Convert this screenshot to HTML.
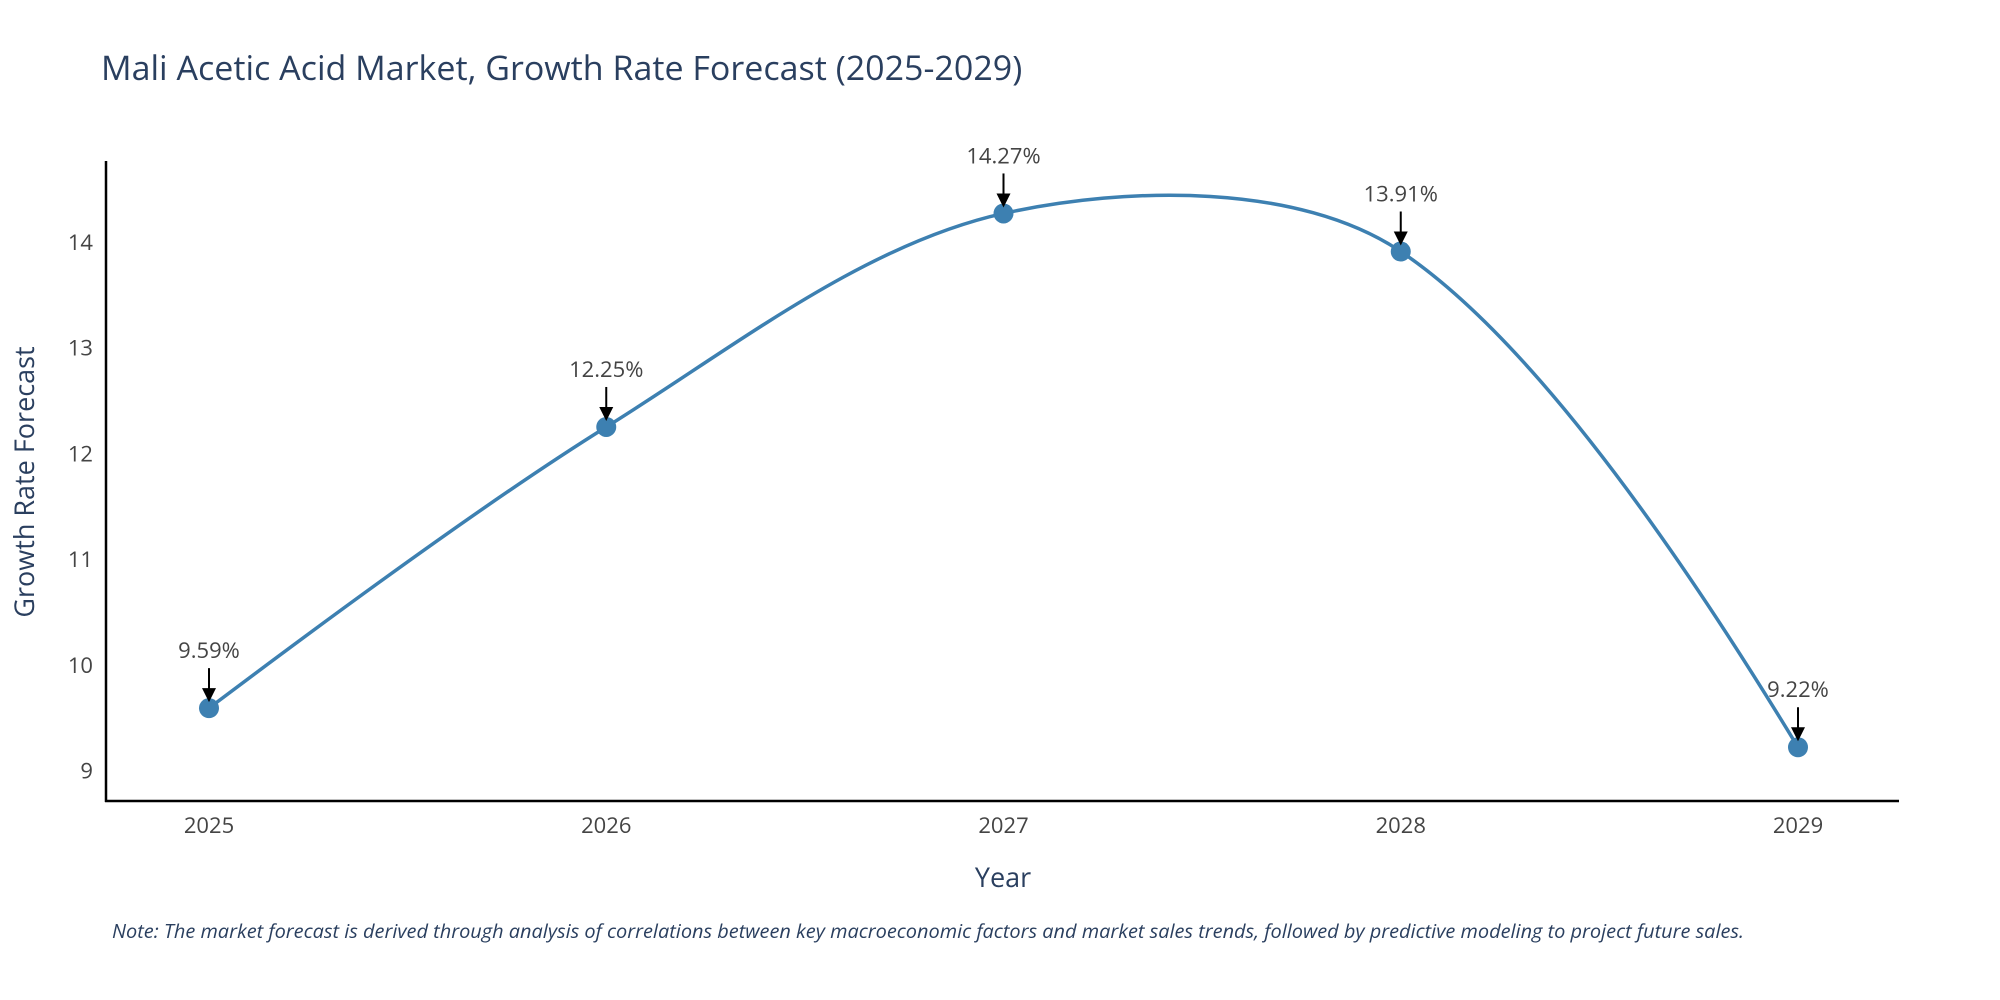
<!DOCTYPE html>
<html><head><meta charset="utf-8"><style>
body{margin:0;background:#fff;}
svg{display:block;font-family:"Open Sans","Liberation Sans",sans-serif;}
</style></head><body>
<svg id="chart" width="2000" height="1000" viewBox="0 0 2000 1000" xmlns="http://www.w3.org/2000/svg">
<rect width="2000" height="1000" fill="#fff"/>
<text x="101" y="80" font-size="34" fill="#2a3f5f">Mali Acetic Acid Market, Growth Rate Forecast (2025-2029)</text>
<g id="yticks"></g><g id="xticks"></g>
<line x1="106" y1="161" x2="106" y2="802" stroke="#000" stroke-width="2.5"/>
<line x1="105" y1="801" x2="1899" y2="801" stroke="#000" stroke-width="2.5"/>
<path id="line" fill="none" stroke="#3d80b1" stroke-width="3.5"/>
<g id="marks"></g>
<text x="1003" y="887" font-size="27" fill="#2a3f5f" text-anchor="middle">Year</text>
<text transform="translate(34,482) rotate(-90)" font-size="27" fill="#2a3f5f" text-anchor="middle">Growth Rate Forecast</text>
<text x="112" y="938" font-size="19" font-style="italic" fill="#2a3f5f" textLength="1632" lengthAdjust="spacingAndGlyphs">Note: The market forecast is derived through analysis of correlations between key macroeconomic factors and market sales trends, followed by predictive modeling to project future sales.</text>
</svg>
<script>
const years = [2025, 2026, 2027, 2028, 2029];
const values = [9.59, 12.25, 14.27, 13.91, 9.22];
const labels = ["9.59%", "12.25%", "14.27%", "13.91%", "9.22%"];
const yTicks = [9, 10, 11, 12, 13, 14];

const NS = "http://www.w3.org/2000/svg";
const xScale = v => 209 + (v - 2025) * (1798 - 209) / 4;
const yScale = v => 770.5 - (v - 9) * 105.7;
function mk(tag, attrs, parent, txt){
  const e = document.createElementNS(NS, tag);
  for (const k in attrs) e.setAttribute(k, attrs[k]);
  if (txt !== undefined) e.textContent = txt;
  parent.appendChild(e); return e;
}
const yt = document.getElementById('yticks');
yTicks.forEach(t => {
  const e = mk('text', {x: 93, y: yScale(t) + 8, 'font-size': 22, fill: '#444', 'text-anchor': 'end'}, yt, String(t));
  
  
});
const xt = document.getElementById('xticks');
years.forEach(y => {
  const e = mk('text', {x: xScale(y), y: 833, 'font-size': 22, fill: '#444', 'text-anchor': 'middle'}, xt, String(y));
  
  
});
const pts = years.map((y, i) => [xScale(y), yScale(values[i])]);
const s = 1;
let d = `M${pts[0][0]},${pts[0][1]}`;
const tang = pts.map((p, i) => {
  if (i === 0 || i === pts.length - 1) return null;
  const a = pts[i-1], b = pts[i+1];
  const d1 = Math.hypot(p[0]-a[0], p[1]-a[1]), d2 = Math.hypot(b[0]-p[0], b[1]-p[1]);
  const dx = b[0]-a[0], dy = b[1]-a[1], tot = d1 + d2;
  return {pre: [p[0] - dx*s*d1/tot/3, p[1] - dy*s*d1/tot/3], post: [p[0] + dx*s*d2/tot/3, p[1] + dy*s*d2/tot/3]};
});
for (let i = 0; i < pts.length - 1; i++) {
  const p = pts[i], q = pts[i+1];
  const c1 = tang[i] ? tang[i].post : p;
  const c2 = tang[i+1] ? tang[i+1].pre : q;
  if (!tang[i]) d += ` Q${c2[0]},${c2[1]} ${q[0]},${q[1]}`;
  else if (!tang[i+1]) d += ` Q${c1[0]},${c1[1]} ${q[0]},${q[1]}`;
  else d += ` C${c1[0]},${c1[1]} ${c2[0]},${c2[1]} ${q[0]},${q[1]}`;
}
document.getElementById('line').setAttribute('d', d);
const g = document.getElementById('marks');
pts.forEach((p, i) => {
  const c = mk('circle', {cx: p[0], cy: p[1], r: 10, fill: '#3d80b1'}, g);
  
  
  const l = mk('line', {x1: p[0], y1: p[1] - 40, x2: p[0], y2: p[1] - 18, stroke: '#000', 'stroke-width': 2}, g);
  
  
  const h = mk('path', {d: `M${p[0]-7},${p[1]-20} L${p[0]+7},${p[1]-20} L${p[0]},${p[1]-6} Z`, fill: '#000'}, g);
  
  
  const t = mk('text', {x: p[0], y: p[1] - 50, 'font-size': 22, fill: '#444', 'text-anchor': 'middle'}, g, labels[i]);
  
  
});
</script>
</body></html>
